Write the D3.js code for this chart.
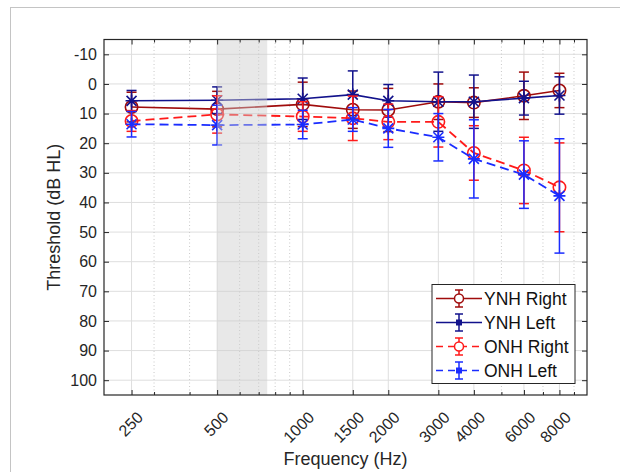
<!DOCTYPE html>
<html>
<head>
<meta charset="utf-8">
<script src="https://cdn.jsdelivr.net/npm/d3@7"></script>
<style>
  body { margin: 0; background: #fff; }
  svg { display: block; font-family: "Liberation Sans", Arial, sans-serif; }
</style>
</head>
<body>
<svg id="chart" width="620" height="472"></svg>
<script>
// Data
const freqs = [250, 500, 1000, 1500, 2000, 3000, 4000, 6000, 8000];
const majorTicks = [250, 500, 1000, 1500, 2000, 3000, 4000, 6000, 8000];
const minorTicks = [300, 400, 600, 700, 800, 900, 5000, 7000, 9000];
const yTicks = d3.range(-10, 101, 10);
const shadeBand = [500, 750];

const ynhRight = [7.8, 8.5, 6.9, 8.7, 8.8, 6.0, 6.3, 4.0, 2.2];
const ynhRightErr = [5, 6, 7.5, 6.3, 7.3, 6, 5, 8, 5.8];
const ynhLeft = [5.7, 5.5, 5.0, 3.6, 5.7, 6.0, 6.0, 4.8, 3.9];
const ynhLeftErr = [3.5, 4.5, 7, 8, 5.5, 10, 9, 5.7, 6.3];
const onhRight = [12.5, 10.3, 11.0, 11.6, 12.8, 12.8, 23.3, 29.2, 34.9];
const onhRightErr = [3.5, 6.3, 5, 7.5, 6, 8.5, 9.2, 11.2, 15];
const onhLeft = [13.6, 13.9, 13.7, 12.0, 15.0, 18.0, 25.3, 30.6, 37.8];
const onhLeftErr = [4.3, 6.7, 4.8, 4, 6.4, 8, 13.2, 11.4, 19.3];

const series = [
    {name: "YNH Right", mean: ynhRight, err: ynhRightErr, color: "#a00c0c", dash: null, marker: "circle"},
    {name: "YNH Left", mean: ynhLeft, err: ynhLeftErr, color: "#12128c", dash: null, marker: "star"},
    {name: "ONH Right", mean: onhRight, err: onhRightErr, color: "#ff1a1a", dash: "9,5", marker: "circle"},
    {name: "ONH Left", mean: onhLeft, err: onhLeftErr, color: "#1a2cff", dash: "9,5", marker: "star"},
];

// Chart dimensions
const width = 620;
const height = 472;
const marginTop = 39.5;
const marginRight = 33;
const marginBottom = 77;
const marginLeft = 104;
const axisColor = "#262626";

const svg = d3.select("#chart");

// outer figure frame
svg.append("rect")
    .attr("x", 10.5).attr("y", 7.5)
    .attr("width", 700).attr("height", 600)
    .attr("fill", "none").attr("stroke", "#c4c4c4");

const x = d3.scaleLog()
    .domain([200, 10000])
    .range([marginLeft, width - marginRight]);

const y = d3.scaleLinear()
    .domain([-15, 105])
    .range([marginTop, height - marginBottom]);

// Grid
const grid = svg.append("g");
grid.selectAll(".hgrid")
    .data(yTicks)
    .join("line")
    .attr("x1", marginLeft).attr("x2", width - marginRight)
    .attr("y1", d => y(d)).attr("y2", d => y(d))
    .attr("stroke", "#dedede");
grid.selectAll(".vgrid")
    .data(majorTicks)
    .join("line")
    .attr("x1", d => x(d)).attr("x2", d => x(d))
    .attr("y1", marginTop).attr("y2", height - marginBottom)
    .attr("stroke", "#dedede");
grid.selectAll(".mgrid")
    .data(minorTicks)
    .join("line")
    .attr("x1", d => x(d)).attr("x2", d => x(d))
    .attr("y1", marginTop).attr("y2", height - marginBottom)
    .attr("stroke", "#c8c8c8")
    .attr("stroke-dasharray", "1,2.5");

// Series: error bars, line, markers
const line = d3.line()
    .x((d, i) => x(freqs[i]))
    .y(d => y(d));

const capW = 5;

series.forEach(s => {
    const g = svg.append("g")
        .attr("stroke", s.color)
        .attr("fill", "none");

    const bars = g.append("g").attr("stroke-width", 1.5);
    bars.selectAll("line.v")
        .data(s.mean)
        .join("line")
        .attr("x1", (d, i) => x(freqs[i])).attr("x2", (d, i) => x(freqs[i]))
        .attr("y1", (d, i) => y(d - s.err[i])).attr("y2", (d, i) => y(d + s.err[i]));
    [-1, 1].forEach(sign => {
        bars.append("g").selectAll("line")
            .data(s.mean)
            .join("line")
            .attr("x1", (d, i) => x(freqs[i]) - capW).attr("x2", (d, i) => x(freqs[i]) + capW)
            .attr("y1", (d, i) => y(d + sign * s.err[i])).attr("y2", (d, i) => y(d + sign * s.err[i]));
    });

    g.append("path")
        .attr("d", line(s.mean))
        .attr("stroke-width", s.dash ? 1.8 : 1.6)
        .attr("stroke-dasharray", s.dash);

    const m = g.append("g").attr("stroke-width", 1.6);
    if (s.marker === "circle") {
        m.selectAll("circle")
            .data(s.mean)
            .join("circle")
            .attr("cx", (d, i) => x(freqs[i]))
            .attr("cy", d => y(d))
            .attr("r", 6.2);
    } else {
        const star = "M-5,-5L5,5M-5,5L5,-5M-6,0L6,0M0,-6L0,6";
        m.selectAll("path")
            .data(s.mean)
            .join("path")
            .attr("transform", (d, i) => `translate(${x(freqs[i])},${y(d)})`)
            .attr("d", star);
    }
});

// Shaded frequency band drawn over the data (semi transparent patch)
svg.append("rect")
    .attr("x", x(shadeBand[0]))
    .attr("width", x(shadeBand[1]) - x(shadeBand[0]))
    .attr("y", marginTop)
    .attr("height", height - marginBottom - marginTop)
    .attr("fill", "#cdcdcd")
    .attr("opacity", 0.45);

// Axes
const bottom = svg.append("g")
    .attr("transform", `translate(0,${height - marginBottom})`)
    .call(d3.axisBottom(x).tickValues(majorTicks).tickSize(-5).tickSizeOuter(0).tickFormat(d => String(d)));
bottom.selectAll("text")
    .attr("x", 0).attr("y", 0).attr("dy", null)
    .attr("text-anchor", "end")
    .attr("transform", "translate(12,23.5) rotate(-45)")
    .attr("font-size", 16)
    .attr("fill", axisColor);

svg.append("g")
    .attr("transform", `translate(0,${height - marginBottom})`)
    .call(d3.axisBottom(x).tickValues(minorTicks).tickSize(-3).tickSizeOuter(0).tickFormat(""));
svg.append("g")
    .attr("transform", `translate(0,${marginTop})`)
    .call(d3.axisTop(x).tickValues(majorTicks).tickSize(-5).tickSizeOuter(0).tickFormat(""));
svg.append("g")
    .attr("transform", `translate(0,${marginTop})`)
    .call(d3.axisTop(x).tickValues(minorTicks).tickSize(-3).tickSizeOuter(0).tickFormat(""));

const left = svg.append("g")
    .attr("transform", `translate(${marginLeft},0)`)
    .call(d3.axisLeft(y).tickValues(yTicks).tickSize(-5).tickSizeOuter(0).tickPadding(7)
        .tickFormat(d => String(d)));
left.selectAll("text")
    .attr("font-size", 16)
    .attr("fill", axisColor);

svg.append("g")
    .attr("transform", `translate(${width - marginRight},0)`)
    .call(d3.axisRight(y).tickValues(yTicks).tickSize(-5).tickSizeOuter(0).tickFormat(""));

svg.selectAll(".domain").remove();
svg.selectAll(".tick line").attr("stroke", axisColor);

// Box
svg.append("rect")
    .attr("x", marginLeft).attr("y", marginTop)
    .attr("width", width - marginRight - marginLeft)
    .attr("height", height - marginBottom - marginTop)
    .attr("fill", "none")
    .attr("stroke", axisColor)
    .attr("stroke-width", 1.2);

// Axis titles
svg.append("text")
    .attr("x", (marginLeft + width - marginRight) / 2)
    .attr("y", 465)
    .attr("text-anchor", "middle")
    .attr("font-size", 18)
    .attr("fill", axisColor)
    .text("Frequency (Hz)");

svg.append("text")
    .attr("transform", `translate(60,${(marginTop + height - marginBottom) / 2}) rotate(-90)`)
    .attr("text-anchor", "middle")
    .attr("font-size", 18)
    .attr("fill", axisColor)
    .text("Threshold (dB HL)");

// Legend
const legend = svg.append("g");
legend.append("rect")
    .attr("x", 432).attr("y", 284.5)
    .attr("width", 143).attr("height", 99)
    .attr("fill", "#fff")
    .attr("stroke", axisColor);

const rowY = d3.scalePoint()
    .domain(series.map(s => s.name))
    .range([298.5, 370.5]);

series.forEach(s => {
    const ly = rowY(s.name);
    const g = legend.append("g").attr("stroke", s.color).attr("fill", "none");
    g.append("line")
        .attr("x1", 436).attr("x2", 482)
        .attr("y1", ly).attr("y2", ly)
        .attr("stroke-width", 1.6)
        .attr("stroke-dasharray", s.dash ? "7,5" : null);
    g.append("line")
        .attr("x1", 459).attr("x2", 459)
        .attr("y1", ly - 8.5).attr("y2", ly + 8.5)
        .attr("stroke-width", 1.5);
    [-8.5, 8.5].forEach(o => {
        g.append("line")
            .attr("x1", 455).attr("x2", 463)
            .attr("y1", ly + o).attr("y2", ly + o)
            .attr("stroke-width", 1.5);
    });
    if (s.marker === "circle") {
        g.append("circle")
            .attr("cx", 459).attr("cy", ly).attr("r", 4.5)
            .attr("fill", "#fff")
            .attr("stroke-width", 1.5);
    } else {
        g.append("rect")
            .attr("x", 456.5).attr("y", ly - 2.5)
            .attr("width", 5).attr("height", 5)
            .attr("fill", s.color);
    }
    legend.append("text")
        .attr("x", 484)
        .attr("y", ly)
        .attr("dy", "0.36em")
        .attr("font-size", 17.5)
        .attr("fill", "#111")
        .text(s.name);
});
</script>
</body>
</html>
